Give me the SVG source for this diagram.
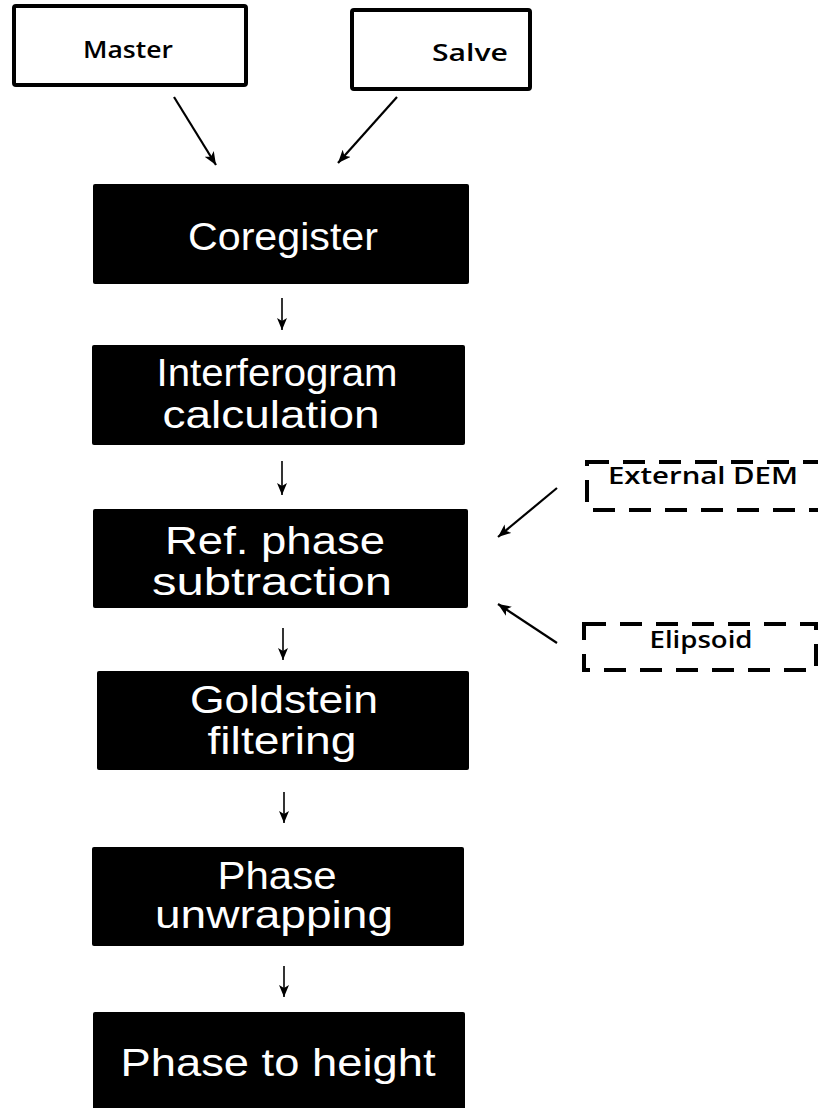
<svg xmlns="http://www.w3.org/2000/svg" width="818" height="1108" viewBox="0 0 818 1108">
<defs>
<marker id="ah" viewBox="0 0 12 10" refX="12" refY="5" markerWidth="13" markerHeight="11" markerUnits="userSpaceOnUse" orient="auto">
<path d="M0,0 L12,5 L0,10 L3,5 z" fill="#000"/>
</marker>
<marker id="ahs" viewBox="0 0 12 10" refX="12" refY="5" markerWidth="12" markerHeight="10" markerUnits="userSpaceOnUse" orient="auto">
<path d="M0,0 L12,5 L0,10 L3,5 z" fill="#000"/>
</marker>
<style>
.in{fill:#fff;stroke:#000;stroke-width:4}
.dash{fill:#fff;stroke:#000;stroke-width:4;stroke-dasharray:22 14}
.blk{fill:#000}
.lt{font-family:"Open Sans","Noto Sans",sans-serif;font-weight:600;font-size:23px;fill:#000;text-anchor:middle}
.wt{font-family:"Liberation Sans",Arial,sans-serif;font-size:38px;fill:#fff;text-anchor:middle}
.c{stroke:#000;stroke-width:2.2;fill:none;marker-end:url(#ah)}
.v{stroke:#000;stroke-width:1.6;fill:none;marker-end:url(#ahs)}
</style>
</defs>
<rect width="818" height="1108" fill="#fff"/>
<g id="master"><rect class="in" x="14" y="6" width="232" height="79" rx="2"/><text class="lt" x="128" y="58" textLength="90" lengthAdjust="spacingAndGlyphs">Master</text></g>
<g id="salve"><rect class="in" x="352" y="10" width="178" height="79" rx="2"/><text class="lt" x="470" y="61" textLength="76" lengthAdjust="spacingAndGlyphs">Salve</text></g>
<g id="coregister"><rect class="blk" x="93" y="184" width="376" height="100" rx="2"/><text class="wt" x="283" y="250" textLength="190" lengthAdjust="spacingAndGlyphs">Coregister</text></g>
<g id="interferogram"><rect class="blk" x="92" y="345" width="373" height="100" rx="2"/><text class="wt" x="277" y="386" textLength="241" lengthAdjust="spacingAndGlyphs">Interferogram</text><text class="wt" x="271" y="428" textLength="217" lengthAdjust="spacingAndGlyphs">calculation</text></g>
<g id="refphase"><rect class="blk" x="93" y="509" width="375" height="99" rx="2"/><text class="wt" x="275" y="554" textLength="220" lengthAdjust="spacingAndGlyphs">Ref. phase</text><text class="wt" x="272" y="595" textLength="240" lengthAdjust="spacingAndGlyphs">subtraction</text></g>
<g id="goldstein"><rect class="blk" x="97" y="671" width="372" height="99" rx="2"/><text class="wt" x="284" y="713" textLength="188" lengthAdjust="spacingAndGlyphs">Goldstein</text><text class="wt" x="282" y="754" textLength="149" lengthAdjust="spacingAndGlyphs">filtering</text></g>
<g id="unwrapping"><rect class="blk" x="92" y="847" width="372" height="99" rx="2"/><text class="wt" x="277" y="889" textLength="119" lengthAdjust="spacingAndGlyphs">Phase</text><text class="wt" x="274" y="928" textLength="238" lengthAdjust="spacingAndGlyphs">unwrapping</text></g>
<g id="height"><rect class="blk" x="93" y="1012" width="372" height="110" rx="2"/><text class="wt" x="278" y="1076" textLength="315" lengthAdjust="spacingAndGlyphs">Phase to height</text></g>
<g id="externaldem"><rect class="dash" x="587" y="462" width="260" height="48"/><text class="lt" x="703" y="484" textLength="190" lengthAdjust="spacingAndGlyphs">External DEM</text></g>
<g id="elipsoid"><rect class="dash" x="584" y="624" width="232" height="46"/><text class="lt" x="701" y="648" textLength="103" lengthAdjust="spacingAndGlyphs">Elipsoid</text></g>
<g id="connectors">
<line class="c" x1="174" y1="97" x2="216" y2="165"/>
<line class="c" x1="397" y1="97" x2="338" y2="163"/>
<line class="v" x1="282" y1="298" x2="282" y2="330"/>
<line class="v" x1="282" y1="461" x2="282" y2="495"/>
<line class="v" x1="283" y1="628" x2="283" y2="660"/>
<line class="v" x1="284" y1="792" x2="284" y2="823"/>
<line class="v" x1="284" y1="966" x2="284" y2="997"/>
<line class="c" x1="557" y1="488" x2="498" y2="537"/>
<line class="c" x1="557" y1="643" x2="498" y2="604"/>
</g>
</svg>
